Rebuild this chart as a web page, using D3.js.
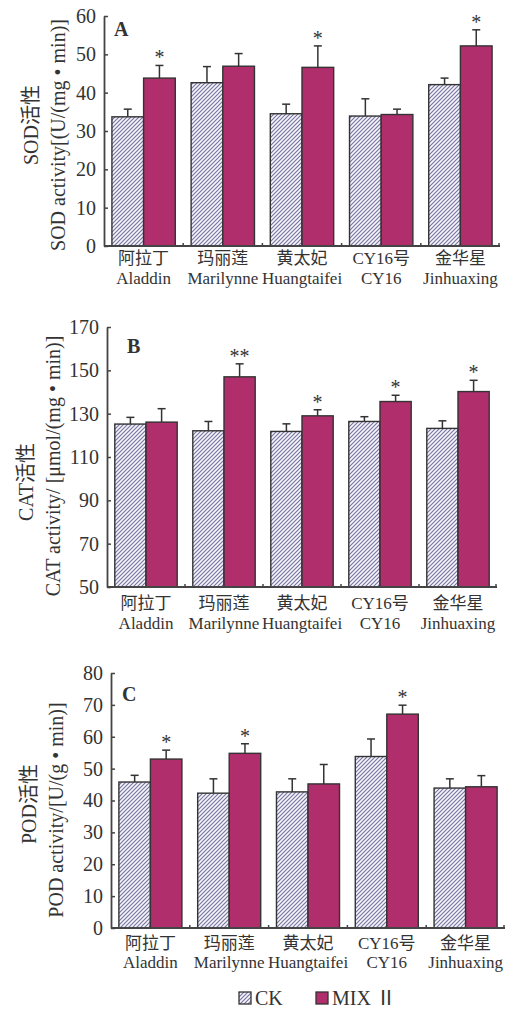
<!DOCTYPE html>
<html><head><meta charset="utf-8">
<script src="https://cdn.jsdelivr.net/npm/d3@7"></script>
<style>body{margin:0;background:#fff}svg{display:block}text{font-family:"Liberation Serif","Times New Roman","Noto Sans CJK SC",serif;fill:#333}</style>
</head><body><svg id="c" width="505" height="1010"></svg>
<script>
const categoriesCN = ["阿拉丁","玛丽莲","黄太妃","CY16号","金华星"];
const categoriesEN = ["Aladdin","Marilynne","Huangtaifei","CY16","Jinhuaxing"];
const series = ["CK","MIX Ⅱ"];

const sodCK = [33.7,42.6,34.5,33.9,42.1];
const sodCKErr = [35.7,46.8,37.0,38.4,43.8];
const sodMIX = [43.8,46.9,46.6,34.3,52.2];
const sodMIXErr = [47.1,50.2,52.2,35.7,56.4];
const sodSig = ["*","","*","","*"];
const sodTicks = [0,10,20,30,40,50,60];

const catCK = [125.2,122.1,121.8,126.4,123.2];
const catCKErr = [128.3,126.4,125.3,128.6,126.7];
const catMIX = [126.1,147.0,129.0,135.6,140.2];
const catMIXErr = [132.3,153.0,131.8,138.5,145.4];
const catSig = ["","**","*","*","*"];
const catTicks = [50,70,90,110,130,150,170];

const podCK = [45.8,42.3,42.7,53.8,43.9];
const podCKErr = [47.9,46.8,46.8,59.3,46.8];
const podMIX = [53.0,54.8,45.2,67.1,44.3];
const podMIXErr = [55.8,57.8,51.3,69.9,47.8];
const podSig = ["*","*","","*",""];
const podTicks = [0,10,20,30,40,50,60,70,80];

const svg = d3.select("#c");
const MIXC = "#b12e6c", EDGE = "#333";
const defs = svg.append("defs");
const pat = defs.append("pattern").attr("id","hatch").attr("patternUnits","userSpaceOnUse")
  .attr("width",4).attr("height",4);
pat.append("rect").attr("width",4).attr("height",4).attr("fill","#f6f5fb");
pat.append("path").attr("d","M-1,1 l2,-2 M0,4 l4,-4 M3,5 l2,-2").attr("stroke","#77749f").attr("stroke-width",1.15);

const panels = [
  {label:"A",x0:104,x1:500,top:16,bot:246,dom:[0,60],ticks:sodTicks,ck:sodCK,ckE:sodCKErr,mx:sodMIX,mxE:sodMIXErr,sig:sodSig,
   t1:"SOD活性",t2:"SOD activity[(U/(mg • min)]",t1x:31,t1y:125,t2x:58,t2y:135,lx:114,ly:36,cn:12,en:32},
  {label:"B",x0:107,x1:497,top:327,bot:587,dom:[50,170],ticks:catTicks,ck:catCK,ckE:catCKErr,mx:catMIX,mxE:catMIXErr,sig:catSig,
   t1:"CAT活性",t2:"CAT activity/ [μmol/(mg • min)]",t1x:26,t1y:482,t2x:53,t2y:466,lx:127,ly:353,cn:16,en:36},
  {label:"C",x0:111,x1:505,top:673,bot:928,dom:[0,80],ticks:podTicks,ck:podCK,ckE:podCKErr,mx:podMIX,mxE:podMIXErr,sig:podSig,
   t1:"POD活性",t2:"POD activity/[U/(g • min)]",t1x:29,t1y:804,t2x:56,t2y:810,lx:122,ly:701,cn:15,en:34}
];

panels.forEach(p=>{
  const g = svg.append("g");
  const x = d3.scaleBand().domain(categoriesEN).range([p.x0,p.x1]).paddingInner(0.2).paddingOuter(0.1);
  const xs = d3.scaleBand().domain(series).range([0,x.bandwidth()]);
  const y = d3.scaleLinear().domain(p.dom).range([p.bot,p.top]);
  const data = categoriesEN.map((c,i)=>[
    {c,s:series[0],v:p.ck[i],e:p.ckE[i],sig:""},
    {c,s:series[1],v:p.mx[i],e:p.mxE[i],sig:p.sig[i]}]).flat();
  data.forEach(d=>{
    const cx = x(d.c)+xs(d.s)+xs.bandwidth()/2;
    g.append("line").attr("x1",cx).attr("x2",cx).attr("y1",y(d.v)).attr("y2",y(d.e)).attr("stroke",EDGE).attr("stroke-width",1.5);
    g.append("line").attr("x1",cx-4).attr("x2",cx+4).attr("y1",y(d.e)).attr("y2",y(d.e)).attr("stroke",EDGE).attr("stroke-width",1.5);
    if(d.sig) g.append("text").attr("x",cx).attr("y",y(d.e)-1).attr("text-anchor","middle").attr("font-size",20).text(d.sig);
  });
  g.selectAll("rect.bar").data(data).join("rect").attr("class","bar")
    .attr("x",d=>x(d.c)+xs(d.s)).attr("width",xs.bandwidth())
    .attr("y",d=>y(d.v)).attr("height",d=>y(p.dom[0])-y(d.v))
    .attr("fill",d=>d.s===series[0]?"url(#hatch)":MIXC).attr("stroke",EDGE).attr("stroke-width",1.4);
  const ya = d3.axisLeft(y).tickValues(p.ticks).tickSize(-4).tickPadding(8).tickSizeOuter(0);
  const yg = g.append("g").attr("transform",`translate(${p.x0},0)`).call(ya);
  yg.select(".domain").attr("stroke","#444").attr("stroke-width",1.8);
  yg.selectAll(".tick line").attr("stroke","#444").attr("stroke-width",1.5);
  yg.selectAll(".tick text").attr("font-size",20).attr("font-family",'"Liberation Serif",serif').attr("fill","#333");
  g.append("line").attr("x1",p.x0).attr("x2",p.x1).attr("y1",p.bot).attr("y2",p.bot).attr("stroke","#444").attr("stroke-width",1.8);
  const bounds = categoriesEN.slice(1).map(c=>x(c)-x.step()*x.paddingInner()/2).concat([p.x1-1]);
  bounds.forEach(b=>g.append("line").attr("x1",b).attr("x2",b).attr("y1",p.bot).attr("y2",p.bot-3).attr("stroke","#444").attr("stroke-width",1.5));
  categoriesEN.forEach((c,i)=>{
    const cx = x(c)+x.bandwidth()/2;
    g.append("text").attr("x",cx).attr("y",p.bot+p.cn+6).attr("text-anchor","middle").attr("font-size",17)
      .attr("font-family",'"Noto Sans CJK SC","Liberation Serif",serif').text(categoriesCN[i]);
    g.append("text").attr("x",cx).attr("y",p.bot+p.en+6).attr("text-anchor","middle").attr("font-size",17).text(c);
  });
  g.append("text").attr("x",p.lx).attr("y",p.ly).attr("font-size",20).attr("font-weight","bold").attr("fill","#222").text(p.label);
  g.append("text").attr("transform",`translate(${p.t1x},${p.t1y}) rotate(-90)`).attr("text-anchor","middle").attr("dy","0.35em").attr("font-size",20).text(p.t1);
  g.append("text").attr("transform",`translate(${p.t2x},${p.t2y}) rotate(-90)`).attr("text-anchor","middle").attr("dy","0.35em").attr("font-size",20).text(p.t2);
});

const lg = svg.append("g");
const leg = [{s:series[0],x:239,fill:"url(#hatch)"},{s:series[1],x:316,fill:MIXC}];
leg.forEach(l=>{
  lg.append("rect").attr("x",l.x).attr("y",992).attr("width",12).attr("height",12).attr("fill",l.fill).attr("stroke",EDGE).attr("stroke-width",1.3);
  lg.append("text").attr("x",l.x+16).attr("y",1005).attr("font-size",20).text(l.s);
});
</script></body></html>
